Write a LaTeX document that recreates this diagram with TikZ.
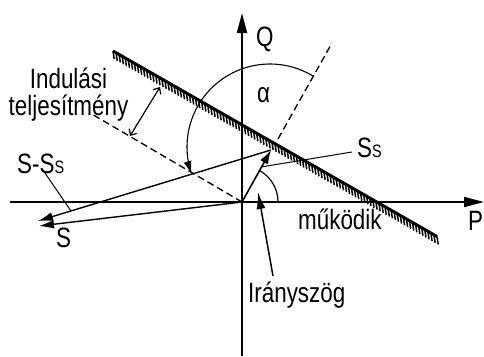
\documentclass[tikz,border=0pt]{standalone}
\usepackage{fontspec}
\setmainfont{Liberation Sans}[FakeStretch=0.8]
\usetikzlibrary{arrows.meta,calc}
\begin{document}
\begin{tikzpicture}[x=1pt,y=-1pt,
  lbl/.style={inner sep=0pt, anchor=base west, font=\fontsize{28}{30}\selectfont},
  axis/.style={line width=1.8pt, -{Triangle[length=20pt,width=10pt]}},
  vec/.style={line width=1.4pt, -{Latex[length=15pt,width=9pt]}},
  thinln/.style={line width=1pt},
  dashln/.style={line width=1.3pt, dash pattern=on 7pt off 4pt},
  hatchln/.style={line width=3pt},
  hatchtick/.style={line width=1.5pt},
]
\useasboundingbox (0,0) rectangle (484,356);
\newcommand{\subS}{{\fontsize{18}{18}\selectfont S}}
% coordinates
\coordinate (O) at (242,202);
\coordinate (Pleft) at (10,202);
\coordinate (Ptip) at (484,202);
\coordinate (Qbot) at (242,356);
\coordinate (Qtip) at (242,13);
\coordinate (H1) at (113,51);
\coordinate (H2) at (437,236.5);
\coordinate (Ss) at (271,150);
\coordinate (S) at (39,226);
\coordinate (SmS) at (38,221);
\coordinate (Par) at (90,113);
\coordinate (Perp1) at (278,139);
\coordinate (Perp2) at (332,43);
\coordinate (D1) at (130,136);
\coordinate (D2) at (160,87);
\coordinate (SsLeadA) at (261,167);
\coordinate (SsLeadB) at (352,152);
\coordinate (SmSLeadA) at (45,173);
\coordinate (SmSLeadB) at (71,211);
\coordinate (IrA) at (273,276);
\coordinate (IrB) at (258,192);
% axes
\draw[axis] (Pleft) -- (Ptip);
\draw[axis] (Qbot) -- (Qtip);
% hatched limit line
\draw[hatchln] (H1) -- (H2);
\foreach \t in {0,...,106}
  \draw[hatchtick] ($(H1)!{\t/106}!(H2)$) -- ++(1.2,8);
% dashed lines
\draw[dashln] (O) -- (Par);
\draw[dashln] (Perp1) -- (Perp2);
% dimension arrow
\draw[line width=1.2pt, {Straight Barb[length=5pt,width=9pt]}-{Straight Barb[length=5pt,width=9pt]}] (D1) -- (D2);
% vectors
\draw[vec] (O) -- (S);
\draw[vec] (Ss) -- (SmS);
\draw[line width=1.6pt, -{Latex[length=14pt,width=9pt]}] (O) -- (Ss);
% leaders
\draw[thinln] (SsLeadA) -- (SsLeadB);
\draw[thinln] (SmSLeadA) -- (SmSLeadB);
\draw[line width=1.5pt, -{Latex[length=17pt,width=9pt]}] (IrA) -- (IrB);
% arcs
\draw[line width=1.1pt, -{Latex[length=13pt,width=8pt]}] plot[domain=58.8:199, samples=60] ({270+83*cos(\x)},{147-83*sin(\x)});
\draw[line width=1.2pt] plot[domain=0:61, samples=30] ({242+36*cos(\x)},{202-36*sin(\x)});
% labels
\node[lbl] (lq) at (256,46) {Q};
\node[lbl] (lp) at (468,230) {P};
\node[lbl] (la) at (257,102) {α};
\node[lbl, anchor=base, font=\fontsize{28}{23}\selectfont] (lind) at (68.5,88)
  {\begin{tabular}[t]{@{}c@{}}Indulási\\teljesítmény\end{tabular}};
\node[lbl] (lsms) at (17,173) {S-S\subS};
\node[lbl] (ls) at (56,247) {S};
\node[lbl] (lss) at (357,157) {S\subS};
\node[lbl] (lm) at (298,229) {működik};
\node[lbl] (lir) at (248,302) {Irányszög};
\end{tikzpicture}
\end{document}
